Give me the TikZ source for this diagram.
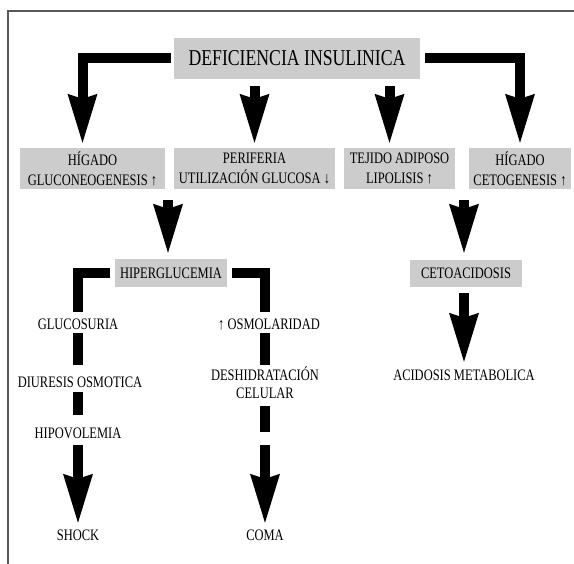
\documentclass[tikz,border=0pt]{standalone}
\usepackage{fontspec}
\setmainfont{Liberation Serif}[FakeStretch=0.78]
\usetikzlibrary{arrows.meta}

\begin{document}
\begin{tikzpicture}[x=1pt,y=-1pt,
   box/.style={rectangle,fill=black!20,inner sep=0pt,
    font=\fontsize{16}{20}\selectfont,align=center},
   lbl/.style={inner sep=0pt,font=\fontsize{16}{18}\selectfont,align=center},
   word/.style={lbl,text height=10.6pt,text depth=0pt},
   bar/.style={line width=10pt},
   fat/.style={line width=10pt,
    -{Stealth[length=49pt,width=30pt,inset=5pt,line width=0pt]}}
    ]
  \useasboundingbox (0,0) rectangle (574,564);
  \draw[black!65,line width=1.3pt] (8,564) -- (8,11) -- (574,11);

  % -- top box
  \node[box,minimum width=246pt,minimum height=41pt,
    font=\fontsize{22.7}{26}\selectfont] at (297,58.5) (defic) {DEFICIENCIA INSULINICA};

  % -- second row
  \node[box,minimum width=145pt,minimum height=41pt] at (92.5,168.5) (hig) {HÍGADO\\GLUCONEOGENESIS ↑};
  \node[box,minimum width=161pt,minimum height=41pt] at (254.5,168.5) (peri) {PERIFERIA\\UTILIZACIÓN GLUCOSA ↓};
  \node[box,minimum width=111pt,minimum height=41pt] at (399.5,168.5) (tejido) {TEJIDO ADIPOSO\\LIPOLISIS ↑};
  \node[box,minimum width=102pt,minimum height=41pt] at (520,168.5) (higceto) {HÍGADO\\CETOGENESIS ↑};

  % -- third row
  \node[box,minimum width=112pt,minimum height=28pt] at (171,273) (hiper) {HIPERGLUCEMIA};
  \node[box,minimum width=112pt,minimum height=27pt] at (466,273.5) (cetoac) {CETOACIDOSIS};

  % -- labels
  \node[word] at (78,324) (glucos) {GLUCOSURIA};
  \node[word] at (80,382) (diures) {DIURESIS OSMOTICA};
  \node[word] at (78,433) (hipovol) {HIPOVOLEMIA};
  \node[word] at (78,535) (shock) {SHOCK};
  \node[word] at (269,324) (osmol) {↑ OSMOLARIDAD};
  \node[lbl] at (265,383.2) (deshid) {DESHIDRATACIÓN\\CELULAR};
  \node[word] at (265,535) (coma) {COMA};
  \node[word] at (464,375) (acidosis) {ACIDOSIS METABOLICA};
  \coordinate (brk) at (265,438.5);

  % -- arrows from the top box
  \draw[fat,shorten <=3pt,shorten >=5pt] (defic.west) -| ([xshift=-10pt]hig.north);
  \draw[fat,shorten <=7pt,shorten >=5pt] (defic.south -| peri.north) -- (peri.north);
  \draw[fat,shorten <=7pt,shorten >=5pt] ([xshift=-10pt]defic.south -| tejido.north) -- ([xshift=-10pt]tejido.north);
  \draw[fat,shorten <=5pt,shorten >=5pt] (defic.east) -| (higceto.north);

  % -- into the third row
  \draw[fat,shorten <=11pt,shorten >=6pt] ([xshift=-3pt]hig.south -| hiper.north) -- ([xshift=-3pt]hiper.north);
  \draw[fat,shorten <=11pt,shorten >=7pt] ([xshift=-2pt]higceto.south -| cetoac.north) -- ([xshift=-2pt]cetoac.north);
  \draw[fat,shorten <=6pt,shorten >=7.7pt] ([xshift=-2pt]cetoac.south) -- (acidosis.north);

  % -- left branch
  \draw[bar,shorten <=5pt,shorten >=6.7pt] (hiper.west) -| (glucos.north);
  \draw[bar,shorten <=3.7pt,shorten >=11.7pt] (glucos.south) -- (glucos.south |- diures.north);
  \draw[bar,shorten <=4.7pt,shorten >=12.7pt] (diures.south -| glucos.south) -- (hipovol.north);
  \draw[fat,shorten <=6.7pt,shorten >=6.7pt] (hipovol.south) -- (shock.north);

  % -- right branch
  \draw[bar,shorten <=5pt,shorten >=6.7pt] (hiper.east) -| ([xshift=-4pt]osmol.north);
  \draw[bar,shorten <=3.7pt,shorten >=2.1pt] ([xshift=-4pt]osmol.south) -- (deshid.north);
  \draw[bar,shorten <=6.7pt,shorten >=6.7pt] (deshid.south) -- (brk);
  \draw[fat,shorten <=6.5pt,shorten >=6.7pt] (brk) -- (coma.north);

\end{tikzpicture}
\end{document}
